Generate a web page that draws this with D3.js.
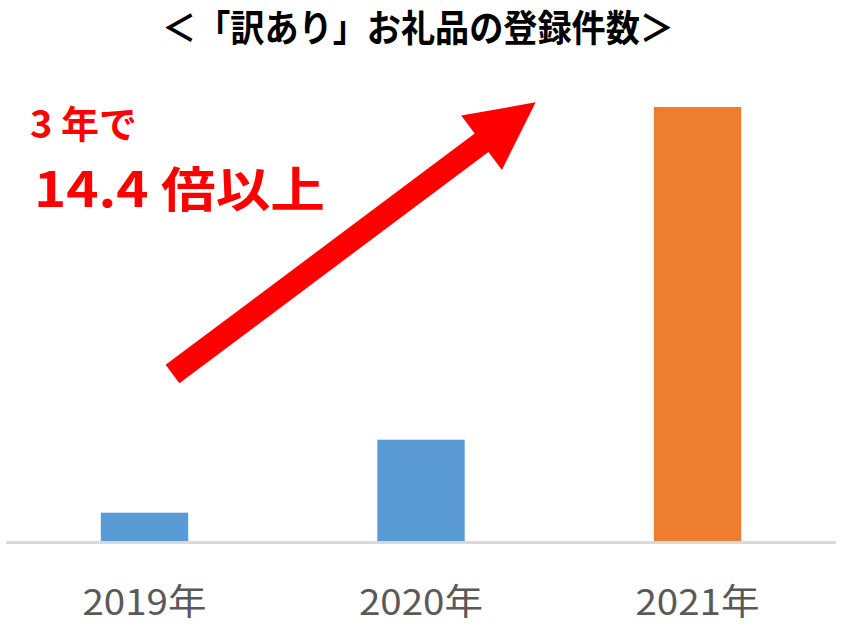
<!DOCTYPE html>
<html><head><meta charset="utf-8">
<script src="https://cdn.jsdelivr.net/npm/d3@7"></script>
<style>html,body{margin:0;padding:0;background:#fff;}svg{display:block;}</style>
</head><body>
<script>
const years = ["2019年", "2020年", "2021年"];
const counts = [283, 1013, 4340];
const barColors = ["#5B9BD5", "#5B9BD5", "#ED7D31"];
const titleText = "＜「訳あり」お礼品の登録件数＞";
const noteLine1 = "3 年で";
const noteLine2 = "14.4 倍以上";

const W = 842, H = 626;
const svg = d3.select("body").append("svg").attr("width", W).attr("height", H);

const x = d3.scaleBand().domain(years).range([6.25, 835.75]).padding(0);
const y = d3.scaleLinear().domain([0, 4500]).range([541, 91]);
const barW = x.bandwidth() * 0.316;

// bars
svg.selectAll("rect.bar").data(years).enter().append("rect")
  .attr("class", "bar")
  .attr("x", d => x(d) + x.bandwidth() / 2 - barW / 2)
  .attr("width", barW)
  .attr("y", (d, i) => y(counts[i]))
  .attr("height", (d, i) => y(0) - y(counts[i]))
  .attr("fill", (d, i) => barColors[i]);

// axis baseline
svg.append("line")
  .attr("x1", x.range()[0]).attr("x2", x.range()[1])
  .attr("y1", y(0) + 1.5).attr("y2", y(0) + 1.5)
  .attr("stroke", "#D9D9D9").attr("stroke-width", 3);

// category labels
const xAxis = d3.axisBottom(x).tickSize(0).tickPadding(0);
const gx = svg.append("g").attr("transform", `translate(0,${y(0)})`).call(xAxis);
gx.select(".domain").remove();
gx.selectAll("text")
  .attr("y", 74).attr("dy", null)
  .attr("font-family", "'Noto Sans CJK JP', sans-serif")
  .attr("font-size", 36)
  .attr("textLength", 124).attr("lengthAdjust", "spacingAndGlyphs")
  .attr("fill", "#595959");

// title
svg.append("text")
  .attr("x", 418).attr("y", 42)
  .attr("text-anchor", "middle")
  .attr("font-family", "'Noto Sans CJK JP', sans-serif")
  .attr("font-weight", "bold")
  .attr("font-size", 37)
  .attr("textLength", 512).attr("lengthAdjust", "spacingAndGlyphs")
  .attr("fill", "#000")
  .text(titleText);

// red annotation
svg.append("text")
  .attr("x", 30).attr("y", 138)
  .attr("font-family", "'Noto Sans CJK JP', sans-serif")
  .attr("font-weight", "bold")
  .attr("font-size", 38)
  .attr("textLength", 107).attr("lengthAdjust", "spacingAndGlyphs")
  .attr("fill", "#FF0000")
  .text(noteLine1);
svg.append("text")
  .attr("x", 34).attr("y", 207)
  .attr("font-family", "'Noto Sans CJK JP', sans-serif")
  .attr("font-weight", "bold")
  .attr("font-size", 48)
  .attr("textLength", 291).attr("lengthAdjust", "spacingAndGlyphs")
  .attr("fill", "#FF0000")
  .text(noteLine2);

// arrow
const tail = [172.5, 374], tip = [535.7, 102.3];
const shaftW = 23, headW = 68, headL = 67.6;
const dx = tip[0] - tail[0], dy = tip[1] - tail[1];
const len = Math.hypot(dx, dy);
const ang = Math.atan2(dy, dx) * 180 / Math.PI;
const arrowPts = [
  [0, -shaftW / 2], [len - headL, -shaftW / 2], [len - headL, -headW / 2],
  [len, 0], [len - headL, headW / 2], [len - headL, shaftW / 2], [0, shaftW / 2]
];
svg.append("path")
  .attr("transform", `translate(${tail[0]},${tail[1]}) rotate(${ang})`)
  .attr("d", d3.line()(arrowPts) + "Z")
  .attr("fill", "#FF0000");
</script>
</body></html>
